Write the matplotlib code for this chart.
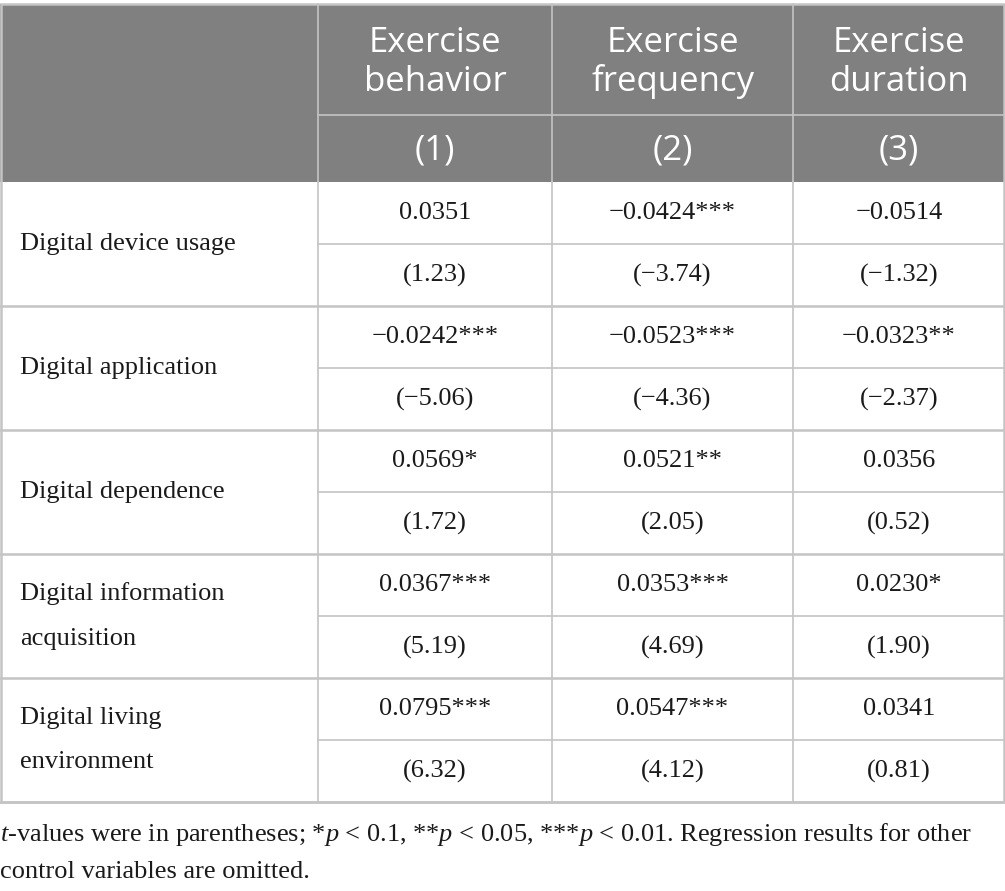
import matplotlib
matplotlib.use("Agg")
import matplotlib.pyplot as plt
from matplotlib.patches import Rectangle

plt.rcParams['mathtext.fontset'] = 'custom'
plt.rcParams['mathtext.rm'] = 'Liberation Serif'
plt.rcParams['mathtext.it'] = 'Liberation Serif:italic'

# table content
col_heads = ["Exercise\nbehavior", "Exercise\nfrequency", "Exercise\nduration"]
col_nums = ["(1)", "(2)", "(3)"]
row_labels = ["Digital device usage", "Digital application", "Digital dependence",
              "Digital information\nacquisition", "Digital living\nenvironment"]
coefs = [
    ["0.0351", "\u22120.0424***", "\u22120.0514"],
    ["\u22120.0242***", "\u22120.0523***", "\u22120.0323**"],
    ["0.0569*", "0.0521**", "0.0356"],
    ["0.0367***", "0.0353***", "0.0230*"],
    ["0.0795***", "0.0547***", "0.0341"],
]
tvals = [
    ["(1.23)", "(\u22123.74)", "(\u22121.32)"],
    ["(\u22125.06)", "(\u22124.36)", "(\u22122.37)"],
    ["(1.72)", "(2.05)", "(0.52)"],
    ["(5.19)", "(4.69)", "(1.90)"],
    ["(6.32)", "(4.12)", "(0.81)"],
]
footnote = ("$t$-values were in parentheses; *$p$ < 0.1, **$p$ < 0.05, ***$p$ < 0.01. "
            "Regression results for other\ncontrol variables are omitted.")

# layout (pixels)
W, H = 1005, 891
col_x = [0, 318, 552, 793, 1005]
top, head_mid, head_bot = 4, 115, 182
block_h = 124
grid = "#c4c4c4"
head_bg = "#808080"
serif = ["Liberation Serif", "DejaVu Serif"]
fs = 19
txt = "#1a1a1a"

fig = plt.figure(figsize=(W / 100, H / 100), dpi=100)
ax = fig.add_axes([0, 0, 1, 1])
ax.set_xlim(0, W)
ax.set_ylim(H, 0)
ax.axis("off")

# header
ax.add_patch(Rectangle((0, top), W, head_bot - top, facecolor=head_bg, edgecolor="none"))
for j in range(3):
    cx = (col_x[j + 1] + col_x[j + 2]) / 2
    ax.text(cx, (top + head_mid) / 2 + 3, col_heads[j], ha="center", va="center",
            color="white", fontsize=25, family="Open Sans", linespacing=1.17)
    ax.text(cx, (head_mid + head_bot) / 2 + 2, col_nums[j], ha="center", va="center",
            color="white", fontsize=25, family="Open Sans")
ax.plot([col_x[1], W], [head_mid, head_mid], color=grid, lw=1.2)
for x in col_x[1:-1]:
    ax.plot([x, x], [top, head_bot], color=grid, lw=1.2)

# body
n = len(row_labels)
bottom = head_bot + n * block_h
for i in range(n):
    y0 = head_bot + i * block_h
    ym = y0 + block_h / 2
    ax.text(20, ym, row_labels[i], ha="left", va="center", fontsize=fs,
            family=serif, color=txt, linespacing=2.3)
    for j in range(3):
        cx = (col_x[j + 1] + col_x[j + 2]) / 2
        ax.text(cx, y0 + block_h / 4, coefs[i][j], ha="center", va="center",
                fontsize=fs, family=serif, color=txt)
        ax.text(cx, y0 + 3 * block_h / 4, tvals[i][j], ha="center", va="center",
                fontsize=fs, family=serif, color=txt)
    ax.plot([col_x[1], W], [ym, ym], color=grid, lw=1.2)
    ax.plot([0, W], [y0 + block_h, y0 + block_h], color=grid, lw=1.8)
for x in col_x[1:-1]:
    ax.plot([x, x], [head_bot, bottom], color=grid, lw=1.2)

# outer border
ax.add_patch(Rectangle((0.8, top), W - 1.6, bottom - top, facecolor="none",
                       edgecolor=grid, lw=1.8))

ax.text(0, 852, footnote, ha="left", va="center", fontsize=fs,
        family=serif, color=txt, linespacing=1.75)

fig.savefig("out.png", dpi=100)
